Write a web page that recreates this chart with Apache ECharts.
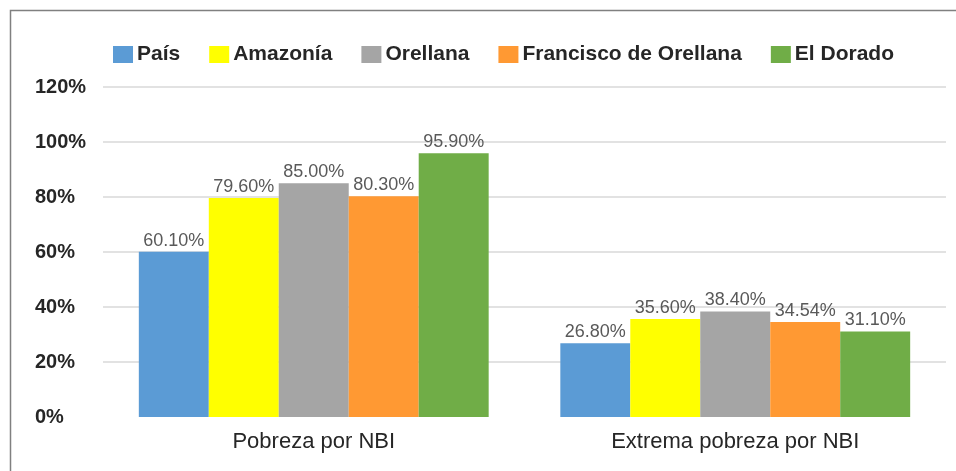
<!DOCTYPE html>
<html>
<head>
<meta charset="utf-8">
<script src="https://cdn.jsdelivr.net/npm/echarts@6/dist/echarts.min.js"></script>
<style>
  html, body { margin: 0; padding: 0; background: #fff; }
  #chart { width: 956px; height: 471px; }
</style>
</head>
<body>
<div id="chart"></div>
<script>
// Categories on the x axis
const categories = ['Pobreza por NBI', 'Extrema pobreza por NBI'];

// Series names and values (percent)
const seriesNames = ['País', 'Amazonía', 'Orellana', 'Francisco de Orellana', 'El Dorado'];
const pais = [60.10, 26.80];
const amazonia = [79.60, 35.60];
const orellana = [85.00, 38.40];
const franciscoDeOrellana = [80.30, 34.54];
const elDorado = [95.90, 31.10];

const seriesColors = ['#5B9BD5', '#FFFF00', '#A5A5A5', '#FF9933', '#70AD47'];
const seriesValues = [pais, amazonia, orellana, franciscoDeOrellana, elDorado];

const fontFamily = '"Liberation Sans", Arial, sans-serif';

const chart = echarts.init(document.getElementById('chart'), null, { renderer: 'canvas' });

chart.setOption({
  animation: false,
  backgroundColor: '#ffffff',
  textStyle: { fontFamily },
  graphic: [{
    type: 'polyline',
    shape: { points: [[10.5, 471], [10.5, 10.5], [956, 10.5]] },
    style: { stroke: '#808080', lineWidth: 1.5, fill: null },
    silent: true
  }],
  legend: {
    left: 108,
    top: 39,
    itemWidth: 20,
    itemHeight: 17,
    itemGap: 29,
    icon: 'rect',
    textStyle: { fontFamily, fontSize: 21, fontWeight: 'bold', color: '#262626', padding: [0, 0, 0, -1] },
    data: seriesNames
  },
  grid: { left: 103, right: 10, top: 87, bottom: 54, containLabel: false },
  xAxis: {
    type: 'category',
    data: categories,
    axisLine: { show: false },
    axisTick: { show: false },
    axisLabel: { fontFamily, fontSize: 22, color: '#262626', margin: 14 }
  },
  yAxis: {
    type: 'value',
    min: 0,
    max: 120,
    interval: 20,
    axisLine: { show: false },
    axisTick: { show: false },
    axisLabel: {
      formatter: '{value}%',
      fontFamily, fontSize: 20, fontWeight: 'bold', color: '#262626',
      align: 'left', margin: 68
    },
    splitLine: {
      lineStyle: {
        color: ['rgba(0,0,0,0)', '#d9d9d9', '#d9d9d9', '#d9d9d9', '#d9d9d9', '#d9d9d9', '#d9d9d9'],
        width: 1.5
      }
    }
  },
  series: seriesNames.map((name, i) => ({
    name,
    type: 'bar',
    data: seriesValues[i],
    barGap: '0%',
    barCategoryGap: '17%',
    itemStyle: { color: seriesColors[i] },
    label: {
      show: true,
      position: 'top',
      distance: 2,
      fontFamily,
      fontSize: 18,
      color: '#595959',
      formatter: p => p.value.toFixed(2) + '%'
    }
  }))
});
</script>
</body>
</html>
